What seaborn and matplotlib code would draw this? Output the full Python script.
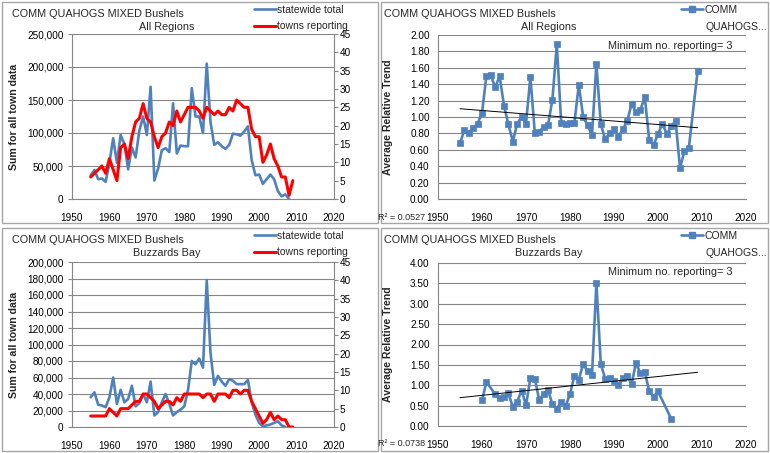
"""COMM QUAHOGS MIXED Bushels - four panel summary"""
import numpy as np
import matplotlib

matplotlib.use("Agg")
import matplotlib.pyplot as plt
import seaborn as sns
from matplotlib.patches import Rectangle
from matplotlib.lines import Line2D
from matplotlib.ticker import FuncFormatter, MultipleLocator

# ---- All Regions ----
all_years = list(range(1955, 2009))
all_total = [36000, 44000, 30000, 31000, 26000, 55000, 92000, 55000, 97000, 83000,
             45000, 78000, 63000, 104000, 125000, 97000, 170000, 28000, 46000, 74000,
             77000, 71000, 145000, 69000, 81000, 80000, 80000, 168000, 125000, 125000,
             100000, 205000, 117000, 82000, 86000, 80000, 76000, 82000, 99000, 98000,
             96000, 102000, 110000, 59000, 36000, 37000, 23000, 30000, 37000, 30000,
             12000, 4000, 7000, 0]
all_town_years = list(range(1955, 2010))
all_towns = [6, 7, 8, 9, 7, 11, 8, 5, 14, 15,
             11, 17, 21, 22, 26, 22, 21, 17, 14, 17,
             18, 21, 20, 24, 21, 23, 25, 25, 25, 24,
             22, 25, 24, 23, 24, 23, 23, 25, 24, 27,
             26, 25, 25, 19, 17, 17, 10, 12, 15, 11,
             9, 6, 6, 1, 5]
all_rel_years = list(range(1955, 2008)) + [2009]
all_rel = [0.68, 0.84, 0.81, 0.87, 0.92, 1.05, 1.50, 1.51, 1.36, 1.50,
           1.14, 0.91, 0.70, 0.92, 1.00, 0.92, 1.49, 0.81, 0.82, 0.88,
           0.90, 1.21, 1.89, 0.93, 0.91, 0.93, 0.93, 1.39, 1.00, 0.90,
           0.78, 1.65, 0.91, 0.73, 0.80, 0.85, 0.76, 0.85, 0.95, 1.16,
           1.06, 1.09, 1.24, 0.72, 0.66, 0.79, 0.92, 0.79, 0.89, 0.95,
           0.38, 0.58, 0.62, 1.56]

# ---- Buzzards Bay ----
bb_years = list(range(1955, 2008))
bb_total = [36000, 42000, 27000, 26000, 24000, 36000, 60000, 28000, 45000, 30000,
            34000, 50000, 25000, 29000, 40000, 30000, 55000, 14000, 18000, 30000,
            40000, 28000, 14000, 18000, 21000, 25000, 45000, 80000, 76000, 83000,
            72000, 178000, 90000, 51000, 62000, 55000, 50000, 58000, 56000, 52000,
            52000, 52000, 57000, 30000, 15000, 5000, 1000, 2000, 3000, 5000,
            7000, 2000, 0]
bb_town_years = list(range(1955, 2010))
bb_towns = [3, 3, 3, 3, 3, 5, 4, 3, 5, 5,
            5, 6, 7, 7, 9, 9, 8, 7, 5, 6,
            7, 7, 6, 8, 7, 9, 9, 9, 9, 9,
            8, 9, 9, 7, 9, 9, 9, 8, 10, 10,
            9, 10, 10, 7, 5, 3, 1, 2, 4, 2,
            3, 2, 2, 0, 0]
bb_rel_years = [1960, 1961] + list(range(1963, 2001)) + [2003]
bb_rel = [0.63, 1.08, 0.78, 0.68, 0.71, 0.80, 0.47, 0.60, 0.87, 0.51,
          1.18, 1.16, 0.64, 0.79, 0.89, 0.53, 0.42, 0.60, 0.49, 0.78,
          1.23, 1.14, 1.52, 1.34, 1.25, 3.51, 1.52, 1.16, 1.19, 1.10,
          1.00, 1.19, 1.23, 1.03, 1.55, 1.29, 1.33, 0.85, 0.72, 0.85, 0.18]

TITLE = "COMM QUAHOGS MIXED Bushels"
BLUE = "#4F81BD"
RED = "#FF0000"
GRID = "#868686"
W, H = 770.0, 453.0

sns.set_style("white")
plt.rcParams["font.family"] = ["Liberation Sans", "DejaVu Sans"]


def fx(px):
    return px / W


def fy(py):
    return 1 - py / H


def style_axis(ax):
    for s in ("top", "right"):
        ax.spines[s].set_visible(False)
    for s in ("left", "bottom"):
        ax.spines[s].set_color(GRID)
        ax.spines[s].set_linewidth(0.8)
    ax.set_xlim(1950, 2020)
    ax.xaxis.set_major_locator(MultipleLocator(10))
    ax.tick_params(axis="both", labelsize=7.2, colors=GRID, labelcolor="black",
                   length=3, width=0.8, direction="out")
    ax.tick_params(axis="x", pad=7)
    ax.tick_params(axis="y", pad=3)
    ax.yaxis.grid(True, color=GRID, linewidth=0.8)
    ax.xaxis.grid(False)
    ax.set_xlabel("")
    ax.set_ylabel("")


def totals_panel(fig, rect, years, total, tyears, towns, ymax, ystep, region, top):
    ax = fig.add_axes(rect)
    sns.lineplot(x=years, y=total, ax=ax, color=BLUE, linewidth=1.9)
    ax.set_ylim(0, ymax)
    ax.yaxis.set_major_locator(MultipleLocator(ystep))
    ax.yaxis.set_major_formatter(FuncFormatter(lambda v, p: f"{int(v):,}"))
    style_axis(ax)
    ax2 = ax.twinx()
    sns.lineplot(x=tyears, y=towns, ax=ax2, color=RED, linewidth=2.2)
    ax2.set_ylim(0, 45)
    ax2.yaxis.set_major_locator(MultipleLocator(5))
    for s in ("top", "left", "bottom"):
        ax2.spines[s].set_visible(False)
    ax2.spines["right"].set_color(GRID)
    ax2.spines["right"].set_linewidth(0.8)
    ax2.tick_params(axis="y", labelsize=7.2, colors=GRID, labelcolor="black",
                    length=3, width=0.8, pad=1)
    ax2.grid(False)
    ax2.set_ylabel("")
    handles = [Line2D([], [], color=BLUE, linewidth=1.9),
               Line2D([], [], color=RED, linewidth=2.2)]
    ax2.legend(handles, ["statewide total", "towns reporting"], loc="upper left",
               bbox_to_anchor=(fx(254), fy(top + 5)), bbox_transform=fig.transFigure,
               frameon=False, fontsize=7.5, handlelength=2.1, handletextpad=0.15,
               labelspacing=0.6, borderpad=0, borderaxespad=0)
    fig.text(fx(12), fy(top + 14), TITLE, fontsize=7.8, va="center", ha="left")
    fig.text(fx(167), fy(top + 27), region, fontsize=7.8, va="center", ha="center")
    fig.text(fx(14), (rect[1] + rect[3] / 2), "Sum for all town data", rotation=90,
             fontsize=7.6, fontweight="bold", va="center", ha="center")


def trend_panel(fig, rect, years, rel, ymax, ystep, region, top, r2):
    ax = fig.add_axes(rect)
    sns.lineplot(x=years, y=rel, ax=ax, color=BLUE, linewidth=1.9, marker="s",
                 markersize=4.3, markeredgecolor=BLUE, markeredgewidth=0.5)
    coef = np.polyfit(years, rel, 1)
    span = np.array([1955, 2009])
    sns.lineplot(x=span, y=np.polyval(coef, span), ax=ax, color="black", linewidth=0.7)
    ax.set_ylim(0, ymax)
    ax.yaxis.set_major_locator(MultipleLocator(ystep))
    ax.yaxis.set_major_formatter(FuncFormatter(lambda v, p: f"{v:.2f}"))
    style_axis(ax)
    handle = Line2D([], [], color=BLUE, linewidth=1.9, marker="s", markersize=4.3)
    ax.legend([handle], ["COMM"], loc="upper left",
              bbox_to_anchor=(fx(681), fy(top + 5)), bbox_transform=fig.transFigure,
              frameon=False, fontsize=7.5, handlelength=2.1, handletextpad=0.15,
              borderpad=0, borderaxespad=0)
    fig.text(fx(706), fy(top + 27), "QUAHOGS...", fontsize=7.5, va="center", ha="left")
    fig.text(fx(384), fy(top + 14), TITLE, fontsize=7.8, va="center", ha="left")
    fig.text(fx(549), fy(top + 27), region, fontsize=7.8, va="center", ha="center")
    fig.text(fx(608), fy(top + 46), "Minimum no. reporting= 3", fontsize=7.8,
             va="center", ha="left")
    fig.text(fx(388), (rect[1] + rect[3] / 2), "Average Relative Trend", rotation=90,
             fontsize=7.6, fontweight="bold", va="center", ha="center")
    fig.text(fx(378), fy(top + 217), r2, fontsize=6.5, va="center", ha="left")


fig = plt.figure(figsize=(7.7, 4.53), dpi=100)
for x0, y0, x1, y1 in [(2, 2, 378, 223), (381, 2, 768, 223),
                       (2, 228, 378, 451), (381, 228, 768, 451)]:
    fig.add_artist(Rectangle((fx(x0), fy(y1)), fx(x1 - x0), (y1 - y0) / H,
                             transform=fig.transFigure, fill=False,
                             edgecolor="#a6a6a6", linewidth=1.0))

totals_panel(fig, [fx(72), fy(199), fx(334 - 72), (199 - 34) / H],
             all_years, all_total, all_town_years, all_towns, 250000, 50000,
             "All Regions", 0)
totals_panel(fig, [fx(72), fy(427), fx(334 - 72), (427 - 262) / H],
             bb_years, bb_total, bb_town_years, bb_towns, 200000, 20000,
             "Buzzards Bay", 226)
trend_panel(fig, [fx(438), fy(199), fx(746 - 438), (199 - 35) / H],
            all_rel_years, all_rel, 2.0, 0.2, "All Regions", 0, "R² = 0.0527")
trend_panel(fig, [fx(438), fy(426), fx(746 - 438), (426 - 263) / H],
            bb_rel_years, bb_rel, 4.0, 0.5, "Buzzards Bay", 226, "R² = 0.0738")

fig.savefig("out.png", dpi=100)
